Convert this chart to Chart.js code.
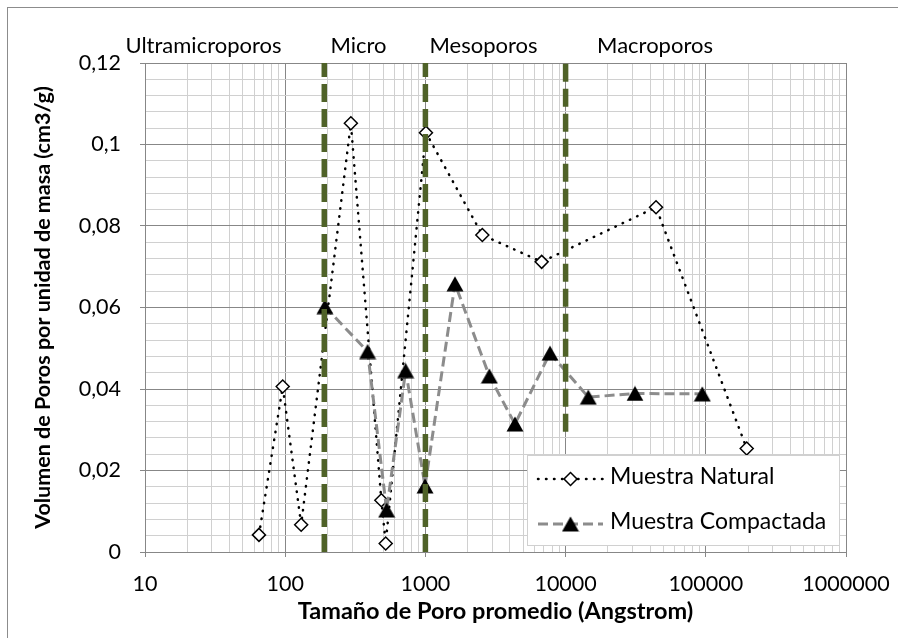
<!DOCTYPE html>
<html>
<head>
<meta charset="utf-8">
<script src="https://cdn.jsdelivr.net/npm/chart.js@4.4.1/dist/chart.umd.min.js"></script>
<style>
  body { margin: 0; background: #fff; }
  #wrap { width: 898px; height: 638px; }
</style>
</head>
<body>
<div id="wrap"><canvas id="poros" width="898" height="638"></canvas></div>
<script>
// Tamaño de poro (Angstrom) y volumen de poros (cm3/g) de cada muestra
var naturalX = [65, 96, 130, 294, 485, 521, 1009, 2547, 6750, 44150, 195800];
var naturalY = [0.0042, 0.0406, 0.0067, 0.1052, 0.0127, 0.0021, 0.1029, 0.0778, 0.0712, 0.0846, 0.0254];

var compactadaX = [192, 387, 529, 723, 994, 1626, 2857, 4355, 7740, 14520, 31260, 94400];
var compactadaY = [0.0602, 0.0492, 0.0103, 0.0445, 0.0162, 0.0658, 0.0432, 0.0314, 0.0488, 0.0380, 0.0389, 0.0388];

// limites entre tipos de poro (lineas verdes)
var limitesX = [190, 1000, 10000];
var limitesDesde = [0, 0, 0.0295];
var limitesHasta = [0.12, 0.12, 0.12];

var zonas = ['Ultramicroporos', 'Micro', 'Mesoporos', 'Macroporos'];
var series = ['Muestra Natural', 'Muestra Compactada'];

var xDecadas = [10, 100, 1000, 10000, 100000, 1000000];
var yEtiquetas = [0, 0.02, 0.04, 0.06, 0.08, 0.1, 0.12];

// divisiones menores: 2..9 en cada decada, 5 por intervalo en y
var xTicks = [];
xDecadas.forEach(function (d, i) {
  if (i === xDecadas.length - 1) { xTicks.push(d); return; }
  for (var m = 1; m < 10; m++) xTicks.push(m * d);
});
var yTicks = [];
yEtiquetas.forEach(function (v, i) {
  yTicks.push(v);
  if (i < yEtiquetas.length - 1) {
    for (var k = 1; k < 5; k++) yTicks.push(v + k * (yEtiquetas[i + 1] - v) / 5);
  }
});

var FUENTE = 'Lato';
var GRIS_MAYOR = '#878787';
var GRIS_MENOR = '#d0d0d0';
var VERDE = '#4f6228';

function puntos(xs, ys) {
  return xs.map(function (x, i) { return { x: x, y: ys[i] }; });
}

// triangulo negro centrado en su caja
function triangulo(w, h) {
  var c = document.createElement('canvas');
  c.width = w; c.height = h;
  var g = c.getContext('2d');
  g.beginPath();
  g.moveTo(w / 2, 0.5);
  g.lineTo(w - 0.5, h - 0.5);
  g.lineTo(0.5, h - 0.5);
  g.closePath();
  g.fillStyle = '#000';
  g.fill();
  return c;
}
var marcaTriangulo = triangulo(18, 16);

var estiloNatural = { color: '#000', width: 2.5, dash: [0.5, 7.5], cap: 'round' };
var estiloCompactada = { color: '#8c8c8c', width: 3, dash: [10, 5], cap: 'butt' };

var datasets = [
  {
    label: series[0],
    data: puntos(naturalX, naturalY),
    showLine: true,
    borderColor: estiloNatural.color,
    borderWidth: estiloNatural.width,
    borderDash: estiloNatural.dash,
    borderCapStyle: estiloNatural.cap,
    pointStyle: 'rectRot',
    pointRadius: 6.5,
    pointBorderWidth: 1.5,
    pointBorderColor: '#000',
    pointBackgroundColor: '#fff',
    order: 2
  },
  {
    label: series[1],
    data: puntos(compactadaX, compactadaY),
    showLine: true,
    borderColor: estiloCompactada.color,
    borderWidth: estiloCompactada.width,
    borderDash: estiloCompactada.dash,
    borderCapStyle: estiloCompactada.cap,
    pointStyle: marcaTriangulo,
    pointRadius: 9,
    order: 1
  }
];

limitesX.forEach(function (x, i) {
  datasets.push({
    label: 'limite',
    data: [{ x: x, y: limitesDesde[i] }, { x: x, y: limitesHasta[i] }],
    showLine: true,
    borderColor: VERDE,
    borderWidth: 5.5,
    borderDash: [18, 7],
    borderCapStyle: 'butt',
    pointRadius: 0,
    order: 0
  });
});

// marco exterior del grafico
var marco = {
  id: 'marco',
  beforeDraw: function (chart) {
    var c = chart.ctx;
    c.save();
    c.strokeStyle = '#8c8c8c';
    c.lineWidth = 1;
    c.strokeRect(7.5, 7.5, 900, 640);
    c.restore();
  }
};

// nombres de las zonas sobre el area de trazado
var zonasX = [203.5, 358.5, 483.5, 655];
var rotulosZonas = {
  id: 'rotulosZonas',
  afterDraw: function (chart) {
    var c = chart.ctx;
    c.save();
    c.font = '22px ' + FUENTE;
    c.fillStyle = '#000';
    c.textAlign = 'center';
    c.textBaseline = 'alphabetic';
    zonas.forEach(function (z, i) { c.fillText(z, zonasX[i], 53); });
    c.restore();
  }
};

// leyenda con muestra de linea y marcador
var leyenda = {
  id: 'leyenda',
  afterDatasetsDraw: function (chart) {
    var c = chart.ctx;
    c.save();
    c.fillStyle = '#fff';
    c.fillRect(527, 455, 312, 90);
    c.strokeStyle = GRIS_MENOR;
    c.lineWidth = 1;
    c.strokeRect(527.5, 455.5, 312, 90);

    var filas = [
      { y: 479, base: 484, est: estiloNatural },
      { y: 524, base: 529, est: estiloCompactada }
    ];
    filas.forEach(function (f, i) {
      c.save();
      c.strokeStyle = f.est.color;
      c.lineWidth = f.est.width;
      c.setLineDash(f.est.dash);
      c.lineCap = f.est.cap;
      c.beginPath();
      c.moveTo(538, f.y);
      c.lineTo(603, f.y);
      c.stroke();
      c.restore();
      if (i === 0) {
        c.save();
        c.translate(570.5, f.y);
        c.rotate(Math.PI / 4);
        c.fillStyle = '#fff';
        c.strokeStyle = '#000';
        c.lineWidth = 1.5;
        var s = 6.5 * Math.SQRT1_2;
        c.fillRect(-s, -s, 2 * s, 2 * s);
        c.strokeRect(-s, -s, 2 * s, 2 * s);
        c.restore();
      } else {
        c.drawImage(marcaTriangulo, 570.5 - 9, f.y - 8);
      }
      c.font = '23px ' + FUENTE;
      c.fillStyle = '#000';
      c.textAlign = 'left';
      c.textBaseline = 'alphabetic';
      c.fillText(series[i], 610, f.base);
    });
    c.restore();
  }
};

function colorX(ctx) {
  return xDecadas.indexOf(ctx.tick.value) >= 0 ? GRIS_MAYOR : GRIS_MENOR;
}
function colorY(ctx) {
  return ctx.index % 5 === 0 ? GRIS_MAYOR : GRIS_MENOR;
}

new Chart(document.getElementById('poros'), {
  type: 'scatter',
  data: { datasets: datasets },
  plugins: [marco, rotulosZonas, leyenda],
  options: {
    responsive: false,
    animation: false,
    devicePixelRatio: 1,
    layout: { padding: { left: 0, top: 63, right: 52, bottom: 0 } },
    plugins: {
      legend: { display: false },
      tooltip: { enabled: false }
    },
    scales: {
      x: {
        type: 'logarithmic',
        min: 10,
        max: 1000000,
        afterBuildTicks: function (s) {
          s.ticks = xTicks.map(function (v) { return { value: v }; });
        },
        // el area de trazado la fija layout.padding, no las etiquetas
        afterFit: function (s) {
          s.height = 86;
          s.paddingLeft = 0;
          s.paddingRight = 0;
        },
        ticks: {
          autoSkip: false,
          maxRotation: 0,
          padding: 14,
          color: '#000',
          font: { family: FUENTE, size: 21.5 },
          callback: function (v) {
            return xDecadas.indexOf(v) >= 0 ? String(v) : '';
          }
        },
        grid: {
          color: colorX,
          tickColor: function (ctx) {
            return xDecadas.indexOf(ctx.tick.value) >= 0 ? GRIS_MAYOR : 'rgba(0,0,0,0)';
          },
          tickLength: 5,
          lineWidth: 1
        },
        border: { color: GRIS_MAYOR },
        title: {
          display: true,
          text: 'Tamaño de Poro promedio (Angstrom)',
          color: '#000',
          font: { family: FUENTE, size: 23.5, weight: 'bold' },
          padding: { top: 0, bottom: 12 }
        }
      },
      y: {
        type: 'linear',
        min: 0,
        max: 0.12,
        afterBuildTicks: function (s) {
          s.ticks = yTicks.map(function (v) { return { value: v }; });
        },
        afterFit: function (s) {
          s.width = 145;
          s.paddingTop = 0;
          s.paddingBottom = 0;
        },
        ticks: {
          autoSkip: false,
          padding: 19,
          color: '#000',
          font: { family: FUENTE, size: 21.5 },
          callback: function (v, i) {
            return i % 5 === 0 ? String(yEtiquetas[i / 5]).replace('.', ',') : '';
          }
        },
        grid: {
          color: colorY,
          tickColor: function (ctx) {
            return ctx.index % 5 === 0 ? GRIS_MAYOR : 'rgba(0,0,0,0)';
          },
          tickLength: 5,
          lineWidth: 1
        },
        border: { color: GRIS_MAYOR },
        title: {
          display: true,
          text: 'Volumen de Poros por unidad de masa (cm3/g)',
          color: '#000',
          font: { family: FUENTE, size: 21.5, weight: 'bold' },
          padding: { top: 30, bottom: 0 }
        }
      }
    }
  }
});
</script>
</body>
</html>
